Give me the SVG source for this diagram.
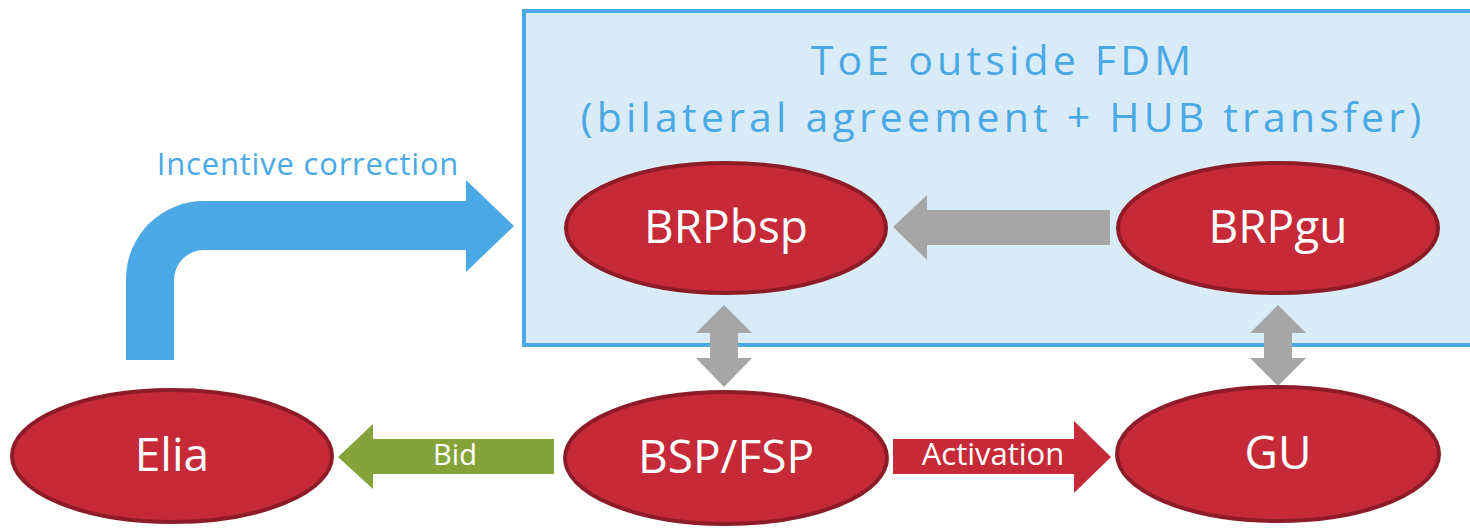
<svg xmlns="http://www.w3.org/2000/svg" width="1470" height="530" viewBox="0 0 1470 530">
  <style>
    .node ellipse { fill: #c62a38; stroke: #8e1c28; stroke-width: 4; }
    .node text { fill: #ffffff; font-family: "Open Sans", "Liberation Sans", sans-serif; font-size: 46px; text-anchor: middle; }
    .title { fill: #4aa9e4; font-family: "Open Sans", "Liberation Sans", sans-serif; font-size: 41px; text-anchor: middle; letter-spacing: 4.2px; }
    .lbl { fill: #ffffff; font-family: "Open Sans", "Liberation Sans", sans-serif; text-anchor: middle; }
    .gray { fill: #a6a6a6; }
  </style>
  <rect width="1470" height="530" fill="#ffffff"/>
  <g id="toe-box">
    <rect x="524" y="11" width="960" height="334" fill="#daebf8" stroke="#4aa9e4" stroke-width="4"/>
    <text class="title" x="1003" y="75">ToE outside FDM</text>
    <text class="title" x="1003" y="132">(bilateral agreement + HUB transfer)</text>
  </g>
  <g id="connectors">
    <g id="incentive-correction">
      <path d="M126,360 L126,279 A78,78 0 0 1 204,201 L466,201 L466,180 L514,226 L466,272 L466,250 L204,250 A30,30 0 0 0 174,280 L174,360 Z" fill="#4aa9e4"/>
      <text x="308" y="175" fill="#4aa9e4" font-family="Open Sans, Liberation Sans, sans-serif" font-size="31" letter-spacing="0.8" text-anchor="middle">Incentive correction</text>
    </g>
    <path id="brpgu-to-brpbsp" class="gray" d="M893,227 L927,195 L927,210 L1110,210 L1110,245 L927,245 L927,260 Z"/>
    <path id="brpbsp-bspfsp" class="gray" d="M724,305 L752,333 L738,333 L738,358 L752,358 L724,387 L696,358 L710,358 L710,333 L696,333 Z"/>
    <path id="brpgu-gu" class="gray" d="M1278,305 L1306,333 L1292,333 L1292,358 L1306,358 L1278,386 L1250,358 L1264,358 L1264,333 L1250,333 Z"/>
    <g id="bid">
      <path d="M338,457 L373,424 L373,439 L554,439 L554,474 L373,474 L373,489 Z" fill="#84a339"/>
      <text class="lbl" x="455" y="465" font-size="29">Bid</text>
    </g>
    <g id="activation">
      <path d="M893,439 L1074,439 L1074,421 L1111,457 L1074,493 L1074,474 L893,474 Z" fill="#c62a38"/>
      <text class="lbl" x="993" y="465" font-size="31">Activation</text>
    </g>
  </g>
  <g id="BRPbsp" class="node">
    <ellipse cx="726" cy="228" rx="160" ry="65"/>
    <text x="726" y="243">BRPbsp</text>
  </g>
  <g id="BRPgu" class="node">
    <ellipse cx="1278" cy="228" rx="160" ry="65"/>
    <text x="1278" y="243">BRPgu</text>
  </g>
  <g id="Elia" class="node">
    <ellipse cx="172" cy="456" rx="160" ry="66"/>
    <text x="172" y="471">Elia</text>
  </g>
  <g id="BSPFSP" class="node">
    <ellipse cx="726" cy="458" rx="161" ry="66"/>
    <text x="726" y="473">BSP/FSP</text>
  </g>
  <g id="GU" class="node">
    <ellipse cx="1278" cy="454" rx="161" ry="67"/>
    <text x="1278" y="469">GU</text>
  </g>
</svg>
